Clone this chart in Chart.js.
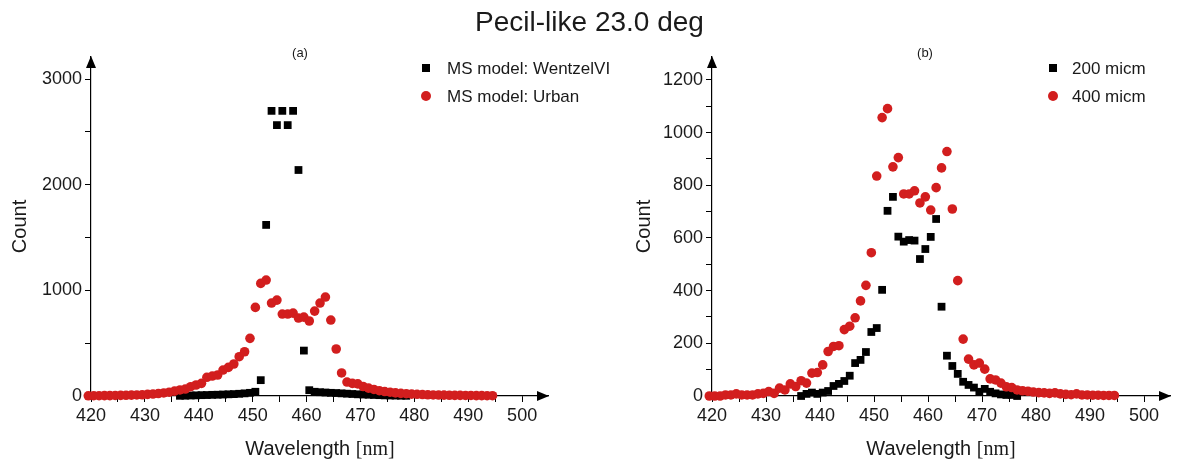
<!DOCTYPE html>
<html>
<head>
<meta charset="utf-8">
<script src="https://cdn.jsdelivr.net/npm/chart.js@4.4.0/dist/chart.umd.min.js"></script>
<style>
  body { margin: 0; background: #fff; font-family: "Liberation Sans", Arial, sans-serif; color: #1a1a1a; }
  #wrap { position: relative; width: 1179px; height: 461px; overflow: hidden; }
  canvas { position: absolute; top: 0; }
  .txt { position: absolute; white-space: nowrap; line-height: 1; }
  .title { font-size: 28px; left: 0; width: 1179px; text-align: center; top: 8px; }
  .panel { font-size: 13px; top: 46px; transform: translateX(-50%); }
  .xlab { font-size: 20px; top: 438px; transform: translateX(-50%); }
  .xlab span { font-family: "Liberation Serif", "Times New Roman", serif; }
  .leg { font-size: 17px; transform: translateY(-50%); }
  .sq { position: absolute; width: 8px; height: 8px; background: #000; transform: translate(-50%, -50%); }
  .dot { position: absolute; width: 10px; height: 10px; border-radius: 50%; background: #d21e1e; transform: translate(-50%, -50%); }
</style>
</head>
<body>
<div id="wrap">
  <canvas id="left-chart" width="590" height="461" style="left:0"></canvas>
  <canvas id="right-chart" width="555" height="461" style="left:624px"></canvas>

  <div class="txt title">Pecil-like 23.0 deg</div>
  <div class="txt panel" style="left:300px">(a)</div>
  <div class="txt panel" style="left:925px">(b)</div>

  <div class="sq" style="left:426px; top:68px"></div>
  <div class="txt leg" style="left:447px; top:68px">MS model: WentzelVI</div>
  <div class="dot" style="left:426px; top:96px"></div>
  <div class="txt leg" style="left:447px; top:96px">MS model: Urban</div>

  <div class="sq" style="left:1053px; top:68px"></div>
  <div class="txt leg" style="left:1072px; top:68px">200 micm</div>
  <div class="dot" style="left:1053px; top:96px"></div>
  <div class="txt leg" style="left:1072px; top:96px">400 micm</div>

  <div class="txt xlab" style="left:320px">Wavelength <span>[nm]</span></div>
  <div class="txt xlab" style="left:941px">Wavelength <span>[nm]</span></div>
</div>

<script>
// wavelength bins [nm]
const wavelength = [
    419.5, 420.5, 421.5, 422.5, 423.5, 424.5, 425.5, 426.5, 427.5, 428.5,
    429.5, 430.5, 431.5, 432.5, 433.5, 434.5, 435.5, 436.5, 437.5, 438.5,
    439.5, 440.5, 441.5, 442.5, 443.5, 444.5, 445.5, 446.5, 447.5, 448.5,
    449.5, 450.5, 451.5, 452.5, 453.5, 454.5, 455.5, 456.5, 457.5, 458.5,
    459.5, 460.5, 461.5, 462.5, 463.5, 464.5, 465.5, 466.5, 467.5, 468.5,
    469.5, 470.5, 471.5, 472.5, 473.5, 474.5, 475.5, 476.5, 477.5, 478.5,
    479.5, 480.5, 481.5, 482.5, 483.5, 484.5, 485.5, 486.5, 487.5, 488.5,
    489.5, 490.5, 491.5, 492.5, 493.5, 494.5
];

// (a) MS model comparison
const wentzelCounts = [
    null, null, null, null, null, null, null, null, null, null,
    null, null, null, null, null, null, null,
    2, 3, 5, 6, 8, 9, 11, 12, 14, 16, 18, 21, 25, 30, 40,
    150, 1620, 2700, 2565, 2700, 2565, 2700, 2140, 430, 55,
    40, 36, 33, 30, 28, 25, 22, 19, 16, 14, 12, 10, 8, 6, 5, 4, 3, 2,
    null, null, null, null, null, null, null, null,
    null, null, null, null, null, null, null, null
];
const urbanCounts = [
    2, 3, 3, 4, 4, 5, 6, 7, 8, 10, 12, 15, 19, 23, 29, 36, 46,
    57, 66, 88, 104, 120, 177, 189, 199, 246, 271, 303, 372, 419, 546, 839, 1066, 1098,
    880, 908, 776, 776, 785, 738, 747, 710, 804, 880, 937, 719, 445, 218, 132, 120, 115, 90,
    75, 62, 50, 42, 36, 30, 25, 22, 18, 16, 14, 12, 10, 9, 8, 7, 6, 6, 5, 5, 4, 4, 3, 3
];

// (b) thickness comparison
const counts200 = [
    null, null, null, null, null, null, null, null, null, null,
    null, null, null, null, null, null, null,
    0, 8, 13, 8, 13, 19, 38, 46, 57, 77, 125, 137, 167, 243, 258, 403, 703, 756, 605,
    586, 592, 590, 520, 558, 604, 672, 339, 153, 114, 84, 54, 42, 32, 16, 27, 16, 10, 6, 4, 4, 0,
    null, null, null, null, null, null, null, null, null,
    null, null, null, null, null, null, null, null, null
];
const counts400 = [
    0, 0, 0, 4, 4, 8, 4, 4, 4, 8, 10, 17, 10, 30, 23, 46, 36, 58, 49, 87,
    89, 118, 169, 188, 191, 252, 265, 297, 361, 420, 544, 835, 1057, 1091, 870, 905,
    767, 767, 779, 733, 756, 706, 791, 866, 928, 710, 438, 216, 140, 118, 125, 102,
    65, 61, 49, 35, 32, 23,
    20, 18, 15, 13, 12, 10, 12, 8, 6, 5, 8, 4, 4, 3, 3, 2, 2, 2
];

const xTicks = [420, 430, 440, 450, 460, 470, 480, 490, 500];
const yTicksLeft = [0, 1000, 2000, 3000];
const yTicksRight = [0, 200, 400, 600, 800, 1000, 1200];

const RED = '#d21e1e';
const BLACK = '#000000';

function toPoints(values) {
    const pts = [];
    values.forEach((v, i) => {
        if (v !== null) pts.push({ x: wavelength[i], y: v });
    });
    return pts;
}

// evenly spaced tick marks (labels only on the listed values)
function stepTicks(min, max, step) {
    const out = [];
    for (let v = min; v <= max + 1e-9; v += step) out.push({ value: v });
    return out;
}

const axisArrows = {
    id: 'axisArrows',
    afterDraw(chart) {
        const { ctx, chartArea: a } = chart;
        ctx.save();
        ctx.fillStyle = '#000';
        ctx.beginPath();
        ctx.moveTo(a.right + 1, a.bottom);
        ctx.lineTo(a.right - 11, a.bottom - 5);
        ctx.lineTo(a.right - 11, a.bottom + 5);
        ctx.closePath();
        ctx.fill();
        ctx.beginPath();
        ctx.moveTo(a.left, a.top - 1);
        ctx.lineTo(a.left - 5, a.top + 11);
        ctx.lineTo(a.left + 5, a.top + 11);
        ctx.closePath();
        ctx.fill();
        ctx.restore();
    }
};

function makeChart(id, blackVals, redVals, yMax, yStep, yLabels, rightPad, yWidth) {
    const ctx = document.getElementById(id).getContext('2d');
    return new Chart(ctx, {
        type: 'scatter',
        data: {
            datasets: [{
                data: toPoints(blackVals),
                pointStyle: 'rect',
                pointRadius: 5.5,
                backgroundColor: BLACK,
                borderColor: BLACK,
                borderWidth: 0,
                clip: false,
                order: 1
            }, {
                data: toPoints(redVals),
                pointStyle: 'circle',
                pointRadius: 4.8,
                backgroundColor: RED,
                borderColor: RED,
                borderWidth: 0,
                clip: false,
                order: 0
            }]
        },
        options: {
            responsive: false,
            animation: false,
            layout: { padding: { top: 57, right: rightPad, bottom: 0, left: 0 } },
            plugins: { legend: { display: false }, tooltip: { enabled: false } },
            scales: {
                x: {
                    type: 'linear',
                    min: 420,
                    max: 504.8,
                    afterFit: s => { s.height = 65; },
                    afterBuildTicks: s => { s.ticks = stepTicks(420, 500, 5); },
                    border: { display: true, color: '#000', width: 1.2 },
                    grid: { display: true, drawOnChartArea: false, drawTicks: true, tickLength: 6, color: '#000' },
                    ticks: {
                        autoSkip: false,
                        maxRotation: 0,
                        padding: 3,
                        color: '#1a1a1a',
                        font: { family: 'Liberation Sans', size: 18 },
                        callback: v => xTicks.includes(v) ? String(v) : ''
                    }
                },
                y: {
                    min: 0,
                    max: yMax,
                    afterFit: s => { s.width = yWidth; },
                    afterBuildTicks: s => { s.ticks = stepTicks(0, yLabels[yLabels.length - 1], yStep); },
                    border: { display: true, color: '#000', width: 1.2 },
                    grid: { display: true, drawOnChartArea: false, drawTicks: true, tickLength: 6, color: '#000' },
                    title: {
                        display: true,
                        text: 'Count',
                        color: '#1a1a1a',
                        font: { family: 'Liberation Sans', size: 20 },
                        padding: { top: 8, bottom: 0 }
                    },
                    ticks: {
                        autoSkip: false,
                        padding: 3,
                        color: '#1a1a1a',
                        font: { family: 'Liberation Sans', size: 18 },
                        callback: v => yLabels.includes(v) ? String(v) : ''
                    }
                }
            }
        },
        plugins: [axisArrows]
    });
}

makeChart('left-chart', wentzelCounts, urbanCounts, 3210, 500, yTicksLeft, 42, 91);
makeChart('right-chart', counts200, counts400, 1287, 100, yTicksRight, 9, 88);
</script>
</body>
</html>
